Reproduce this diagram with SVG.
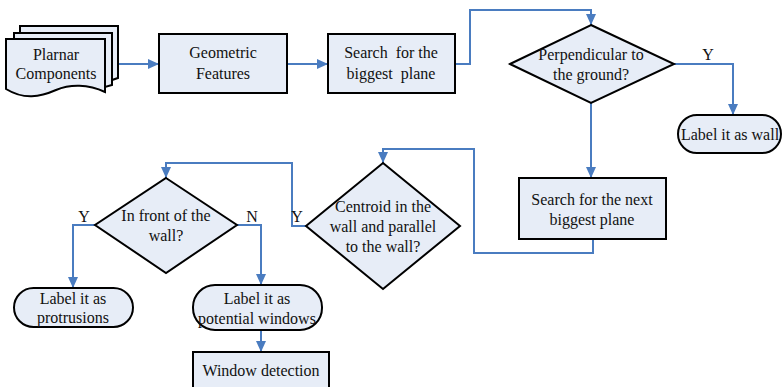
<svg xmlns="http://www.w3.org/2000/svg" width="783" height="387" viewBox="0 0 783 387">
<style>
.n{fill:#E7EDF7;stroke:#000;stroke-width:2}
.t{font-family:"Liberation Serif","Times New Roman",serif;font-size:16px;fill:#111;text-anchor:middle}
.c{fill:none;stroke:#4A7CC0;stroke-width:2}
</style>
<defs>
<marker id="a" markerUnits="userSpaceOnUse" markerWidth="12" markerHeight="12" refX="11" refY="6" orient="auto">
<path d="M0,1 L11,6 L0,11 Z" fill="#4A7CC0"/>
</marker>
</defs>
<rect width="783" height="387" fill="#fff"/>
<g id="connectors">
<path class="c" d="M112,64 H159" marker-end="url(#a)"/>
<path class="c" d="M287,64 H328" marker-end="url(#a)"/>
<path class="c" d="M455,64 H470 V10 H591 V25" marker-end="url(#a)"/>
<path class="c" d="M674,64 H733 V115" marker-end="url(#a)"/>
<path class="c" d="M591,103 V178" marker-end="url(#a)"/>
<path class="c" d="M593,239 V253 H474 V149 H383 V163" marker-end="url(#a)"/>
<path class="c" d="M306,226 H292 V163 H166 V178" marker-end="url(#a)"/>
<path class="c" d="M95,225 H73 V288" marker-end="url(#a)"/>
<path class="c" d="M237,225 H261 V285" marker-end="url(#a)"/>
<path class="c" d="M261,330 V352" marker-end="url(#a)"/>
<text class="t" x="708" y="60">Y</text>
<text class="t" x="297" y="222">Y</text>
<text class="t" x="84" y="222">Y</text>
<text class="t" x="252" y="222">N</text>
</g>
<g id="planar">
<path class="n" d="M20,26 H118 V78 L112,80 V33 H20 Z"/>
<path class="n" d="M14,33 H112 V85 L105,87 V39 H14 Z"/>
<path class="n" d="M6,39 H105 V92 C88,84 70,84 56,90 C40,97 24,100 6,89 Z"/>
<text class="t" x="56" y="60">Plarnar</text>
<text class="t" x="56" y="79">Components</text>
</g>
<g id="geometric">
<rect class="n" x="159" y="34" width="128" height="59"/>
<text class="t" x="223" y="58">Geometric</text>
<text class="t" x="223" y="79">Features</text>
</g>
<g id="search1">
<rect class="n" x="328" y="34" width="127" height="59"/>
<text class="t" x="391" y="58" xml:space="preserve">Search  for the</text>
<text class="t" x="391" y="79" xml:space="preserve">biggest  plane</text>
</g>
<g id="perp">
<path class="n" d="M591,25 L674,64 L591,103 L510,64 Z"/>
<text class="t" x="591" y="60">Perpendicular to</text>
<text class="t" x="591" y="80">the ground?</text>
</g>
<g id="wall">
<rect class="n" x="678" y="115" width="103" height="38" rx="19"/>
<text class="t" x="730" y="140">Label it as wall</text>
</g>
<g id="search2">
<rect class="n" x="519" y="178" width="147" height="61"/>
<text class="t" x="592" y="205">Search for the next</text>
<text class="t" x="592" y="225">biggest plane</text>
</g>
<g id="centroid">
<path class="n" d="M383,163 L460,226 L383,289 L306,226 Z"/>
<text class="t" x="383" y="212">Centroid in the</text>
<text class="t" x="383" y="232">wall and parallel</text>
<text class="t" x="383" y="252">to the wall?</text>
</g>
<g id="front">
<path class="n" d="M166,178 L237,225 L166,273 L95,225 Z"/>
<text class="t" x="166" y="221">In front of the</text>
<text class="t" x="166" y="241">wall?</text>
</g>
<g id="protrusions">
<rect class="n" x="14" y="288" width="119" height="39" rx="19.5"/>
<text class="t" x="73" y="304">Label it as</text>
<text class="t" x="73" y="323">protrusions</text>
</g>
<g id="potential">
<rect class="n" x="193" y="285" width="129" height="45" rx="22"/>
<text class="t" x="257" y="304">Label it as</text>
<text class="t" x="257" y="324">potential windows</text>
</g>
<g id="window">
<rect class="n" x="193" y="352" width="136" height="40"/>
<text class="t" x="261" y="376">Window detection</text>
</g>
</svg>
